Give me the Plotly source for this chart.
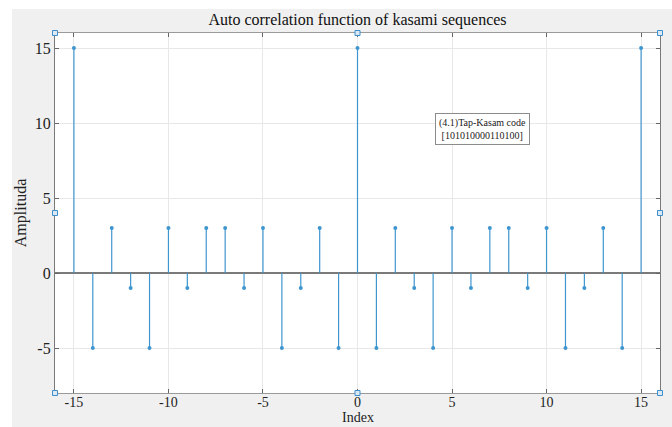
import plotly.graph_objects as go

lags = list(range(-15, 16))
values = [15, -5, 3, -1, -5, 3, -1, 3, 3, -1, 3, -5, -1, 3, -5,
          15,
          -5, 3, -1, -5, 3, -1, 3, 3, -1, 3, -5, -1, 3, -5, 15]

title_text = "Auto correlation function of kasami sequences"
x_title = "Index"
y_title = "Amplituda"
note_text = "(4.1)Tap-Kasam code<br>[101010000110100]"
x_ticks = [-15, -10, -5, 0, 5, 10, 15]
x_ticklabels = ["-15", "-10", "-5", "0", "5", "10", "15"]
y_ticks = [-5, 0, 5, 10, 15]
y_ticklabels = ["-5", "0", "5", "10", "15"]

stem_color = "#3f96cf"
font_family = "Liberation Serif, Times New Roman, serif"

# stems as line segments with gaps
sx, sy = [], []
for x, v in zip(lags, values):
    sx += [x, x, None]
    sy += [0, v, None]

fig = go.Figure()
fig.add_trace(go.Scatter(x=sx, y=sy, mode="lines",
                         line=dict(color=stem_color, width=1.2),
                         hoverinfo="skip", showlegend=False))
fig.add_trace(go.Scatter(x=lags, y=values, mode="markers",
                         marker=dict(color=stem_color, size=4, symbol="circle"),
                         showlegend=False))

fig.add_annotation(x=6.6, y=9.6, xref="x", yref="y", text=note_text,
                   showarrow=False, font=dict(family=font_family, size=10, color="#222"),
                   bordercolor="#8c8c8c", borderwidth=1, borderpad=3,
                   bgcolor="white")

W, H = 672, 427
ml, mr, mt, mb = 55, 12, 33, 34
pw, ph = W - ml - mr, H - mt - mb

# x-axis title placed just under the tick labels, touching the page bottom
fig.add_annotation(x=0.5, y=-mb / ph, xref="paper", yref="paper",
                   xanchor="center", yanchor="bottom", text=x_title, showarrow=False,
                   font=dict(family=font_family, size=14, color="#222"))

shapes = []
# white outer strips (top and left)
shapes.append(dict(type="rect", xref="paper", yref="paper",
                   x0=-ml / pw, x1=(W - ml) / pw, y0=1 + (mt - 9) / ph, y1=1 + mt / ph,
                   fillcolor="white", line=dict(width=0), layer="below"))
shapes.append(dict(type="rect", xref="paper", yref="paper",
                   x0=-ml / pw, x1=(12 - ml) / pw, y0=-mb / ph, y1=1 + mt / ph,
                   fillcolor="white", line=dict(width=0), layer="below"))
# selection handles
for hx, hy in [(0, 0), (0.5, 0), (1, 0), (0, 0.5), (1, 0.5), (0, 1), (0.5, 1), (1, 1)]:
    shapes.append(dict(type="rect", xref="paper", yref="paper",
                       xsizemode="pixel", ysizemode="pixel",
                       xanchor=hx, yanchor=hy, x0=-2.5, x1=2.5, y0=-2.5, y1=2.5,
                       line=dict(color="#3f8fca", width=1), fillcolor="#dbe9f5"))

fig.update_layout(
    width=W, height=H,
    margin=dict(l=ml, r=mr, t=mt, b=mb, autoexpand=False),
    paper_bgcolor="#f0f0f0",
    plot_bgcolor="white",
    font=dict(family=font_family, size=15, color="#222"),
    title=dict(text=title_text, x=0.5, xref="paper", xanchor="center",
               y=1 - 19 / H, yanchor="middle",
               font=dict(family=font_family, size=16, color="#111")),
    shapes=shapes,
    xaxis=dict(range=[-16, 16], tickvals=x_ticks, ticktext=x_ticklabels,
               ticks="inside", ticklen=4, automargin=False, ticklabelstandoff=-4,
               tickcolor="#666", showgrid=True, gridcolor="#e8e8e8", zeroline=False,
               showline=True, linecolor="#9a9a9a", linewidth=1, mirror="ticks",
               tickfont=dict(size=14)),
    yaxis=dict(range=[-8, 16], tickvals=y_ticks, ticktext=y_ticklabels,
               ticks="inside", ticklen=4, automargin=False,
               tickcolor="#666", showgrid=True, gridcolor="#e8e8e8",
               zeroline=True, zerolinecolor="#7a7a7a", zerolinewidth=1.5,
               showline=True, linecolor="#7a7a7a", linewidth=1.2, mirror="ticks",
               title=dict(text=y_title, standoff=4, font=dict(size=16)),
               tickfont=dict(size=16)),
)

fig.write_html("out.html")
